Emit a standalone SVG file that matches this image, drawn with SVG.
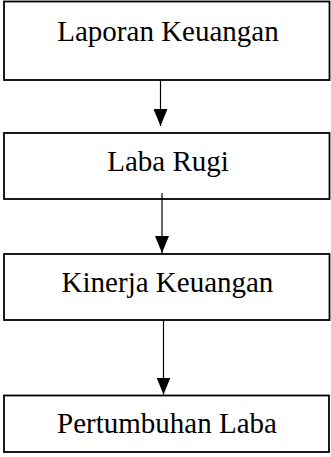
<svg xmlns="http://www.w3.org/2000/svg" width="331" height="457" viewBox="0 0 331 457">
<style>
.box{fill:#fff;stroke:#000;stroke-width:1.8}
.lbl{font-family:"Liberation Serif","Times New Roman",serif;font-size:29px;fill:#000;text-anchor:middle}
.con{stroke:#000;stroke-width:1.2;fill:none;marker-end:url(#ah)}
</style>
<defs>
<marker id="ah" markerWidth="17" markerHeight="14" refX="17" refY="7" orient="auto" markerUnits="userSpaceOnUse" viewBox="0 0 17 14">
<path d="M0,0 L17,7 L0,14 Z" fill="#000"/>
</marker>
</defs>
<g id="n1"><rect class="box" x="4" y="1.5" width="325.5" height="78.5"/><text class="lbl" x="168" y="41">Laporan Keuangan</text></g>
<g id="n2"><rect class="box" x="4" y="133" width="325.5" height="66"/><text class="lbl" x="168" y="171">Laba Rugi</text></g>
<g id="n3"><rect class="box" x="4" y="254" width="325.5" height="66"/><text class="lbl" x="167.5" y="292">Kinerja Keuangan</text></g>
<g id="n4"><rect class="box" x="4" y="395.5" width="325" height="56.5"/><text class="lbl" x="167" y="433">Pertumbuhan Laba</text></g>
<g id="connectors">
<line class="con" x1="160.5" y1="80" x2="160.5" y2="126"/>
<line class="con" x1="162" y1="193" x2="162" y2="253"/>
<line class="con" x1="163.5" y1="320" x2="163.5" y2="394.5"/>
</g>
</svg>
